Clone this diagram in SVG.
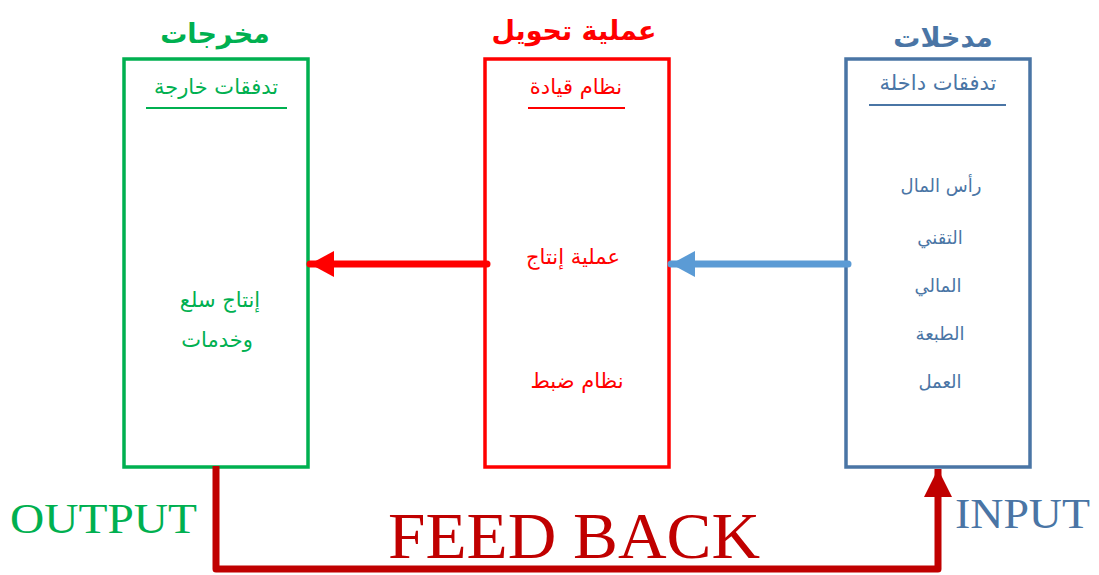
<svg xmlns="http://www.w3.org/2000/svg" width="1099" height="575" viewBox="0 0 1099 575">
  <style>
    .ar { font-family: "DejaVu Sans", "Noto Sans", sans-serif; text-anchor: middle; }
    .lat { font-family: "Liberation Serif", serif; }
    .box { fill: #ffffff; stroke-width: 3.5; }
    .title { font-size: 27px; font-weight: bold; }
    .sub { font-size: 21px; }
    .item { font-size: 21px; }
    .small { font-size: 18px; }
    .green { fill: #00b050; }
    .red { fill: #ff0000; }
    .blue { fill: #4a75a5; }
  </style>
  <defs>
    <marker id="headRed" markerUnits="userSpaceOnUse" markerWidth="26" markerHeight="26" refX="24" refY="13" orient="auto">
      <path d="M0,0 L24,13 L0,26 Z" fill="#ff0000"/>
    </marker>
    <marker id="headBlue" markerUnits="userSpaceOnUse" markerWidth="26" markerHeight="26" refX="24" refY="13" orient="auto">
      <path d="M0,0 L24,13 L0,26 Z" fill="#5b9bd5"/>
    </marker>
    <marker id="headDark" markerUnits="userSpaceOnUse" markerWidth="28" markerHeight="28" refX="28" refY="14" orient="auto">
      <path d="M0,0 L28,14 L0,28 Z" fill="#c00000"/>
    </marker>
  </defs>

  <rect width="1099" height="575" fill="#ffffff"/>

  <!-- Outputs -->
  <g id="outputs">
    <rect class="box" x="124" y="59" width="184" height="408" stroke="#00b050"/>
    <text class="ar title green" x="215" y="43">مخرجات</text>
    <text class="ar sub green" x="216" y="94">تدفقات خارجة</text>
    <line x1="146" y1="108" x2="287" y2="108" stroke="#00b050" stroke-width="2"/>
    <text class="ar item green" x="220" y="307">إنتاج سلع</text>
    <text class="ar item green" x="217" y="347">وخدمات</text>
    <text class="lat" x="10" y="533" font-size="42" textLength="187" lengthAdjust="spacingAndGlyphs" fill="#00b050">OUTPUT</text>
  </g>

  <!-- Transformation -->
  <g id="transformation">
    <rect class="box" x="485" y="59" width="184" height="408" stroke="#ff0000"/>
    <text class="ar title red" x="574" y="40">عملية تحويل</text>
    <text class="ar sub red" x="576" y="94">نظام قيادة</text>
    <line x1="528" y1="108" x2="625" y2="108" stroke="#ff0000" stroke-width="2"/>
    <text class="ar item red" x="573" y="264">عملية إنتاج</text>
    <text class="ar item red" x="577" y="388">نظام ضبط</text>
  </g>

  <!-- Inputs -->
  <g id="inputs">
    <rect class="box" x="846" y="59" width="184" height="408" stroke="#4a75a5"/>
    <text class="ar title blue" x="943" y="47" font-size="30">مدخلات</text>
    <text class="ar sub blue" x="938" y="90">تدفقات داخلة</text>
    <line x1="869" y1="105" x2="1006" y2="105" stroke="#4a75a5" stroke-width="2"/>
    <text class="ar small blue" x="941" y="192">رأس المال</text>
    <text class="ar small blue" x="940" y="244">التقني</text>
    <text class="ar small blue" x="938" y="292">المالي</text>
    <text class="ar small blue" x="940" y="340">الطبعة</text>
    <text class="ar small blue" x="940" y="388">العمل</text>
    <text class="lat" x="955" y="528" font-size="42" textLength="135" lengthAdjust="spacingAndGlyphs" fill="#4a75a5">INPUT</text>
  </g>

  <!-- Connectors -->
  <g id="connectors" fill="none" stroke-linecap="round" stroke-linejoin="round">
    <line x1="487" y1="264" x2="310" y2="264" stroke="#ff0000" stroke-width="7" marker-end="url(#headRed)"/>
    <line x1="848" y1="264" x2="671" y2="264" stroke="#5b9bd5" stroke-width="7" marker-end="url(#headBlue)"/>
    <path d="M216,466 L216,569 L938,569 L938,469" stroke="#c00000" stroke-width="7" stroke-linecap="butt" marker-end="url(#headDark)"/>
    <text class="lat" x="388" y="558" font-size="66" textLength="372" lengthAdjust="spacingAndGlyphs" fill="#c00000" stroke="none">FEED BACK</text>
  </g>
</svg>
